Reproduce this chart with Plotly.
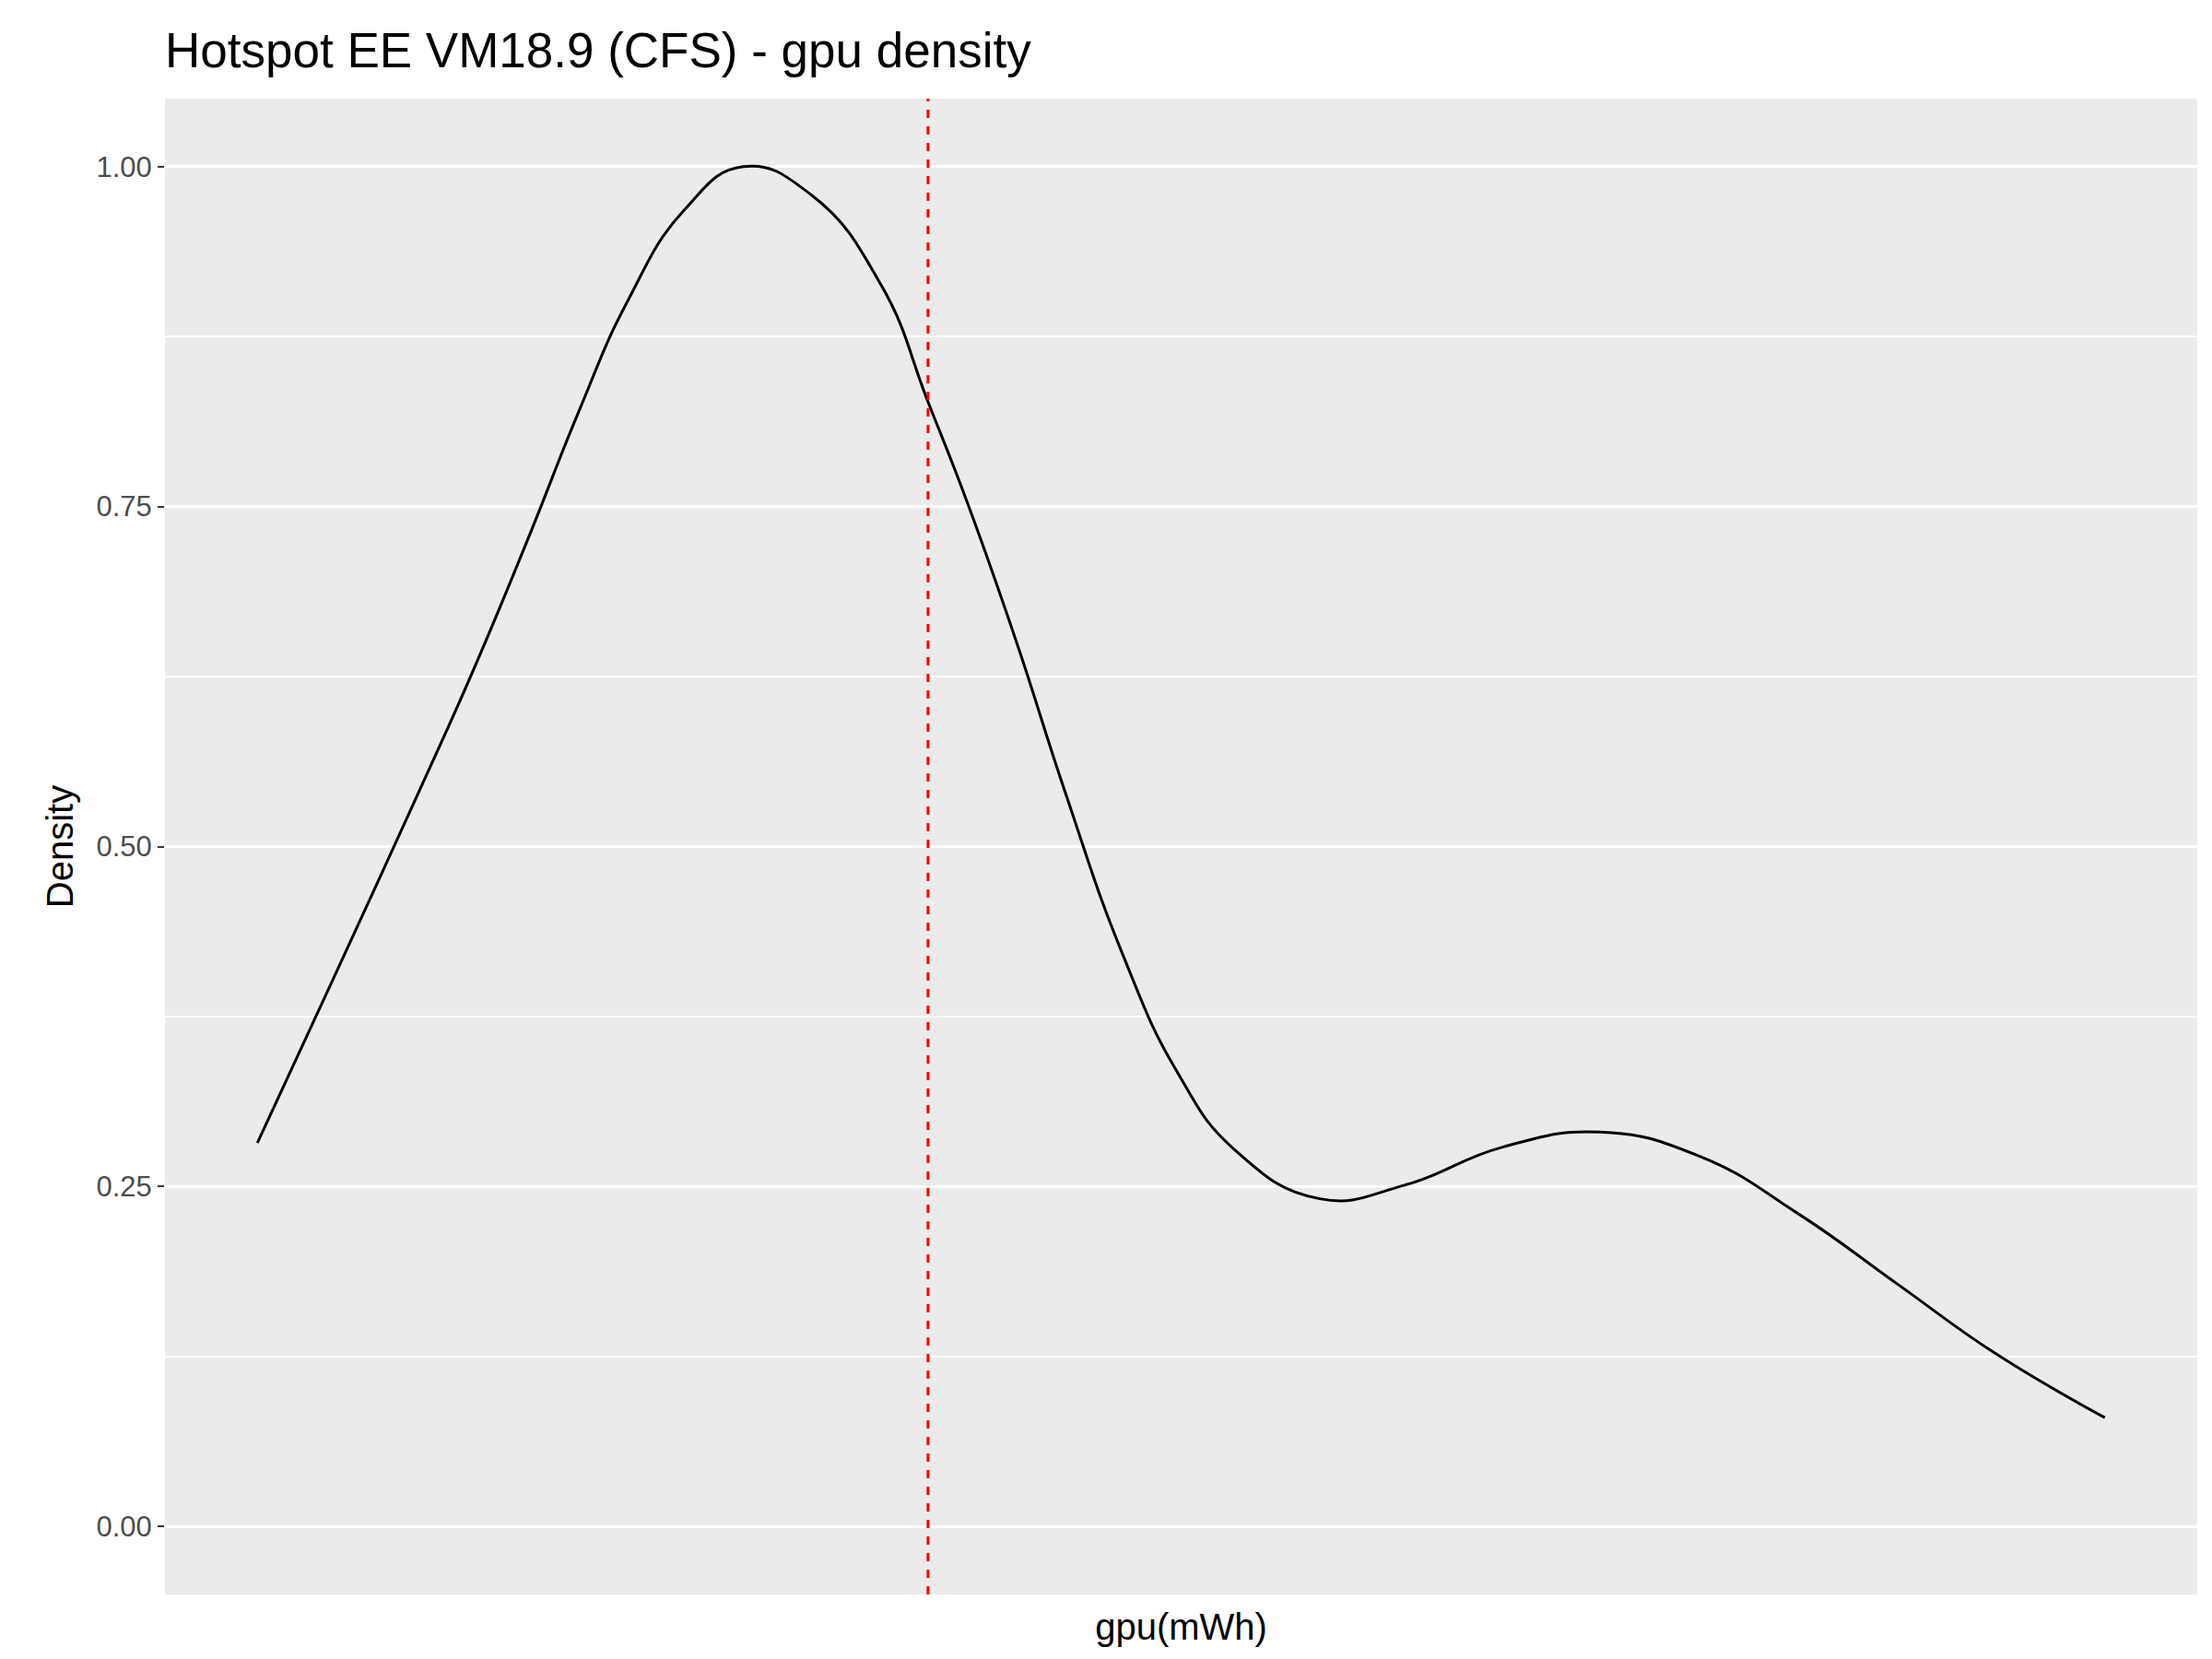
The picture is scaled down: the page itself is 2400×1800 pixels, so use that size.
import plotly.graph_objects as go

gpu_x = [0, 0.0405, 0.086, 0.117, 0.147, 0.174, 0.200, 0.231, 0.263, 0.300, 0.338, 0.363,
         0.384, 0.411, 0.437, 0.468, 0.498, 0.529, 0.575, 0.621, 0.674, 0.727, 0.781,
         0.834, 0.888, 0.941, 1.0]
density = [0.282, 0.401, 0.536, 0.630, 0.728, 0.820, 0.900, 0.968, 1.0, 0.979, 0.912, 0.827,
           0.754, 0.650, 0.541, 0.422, 0.334, 0.277, 0.241, 0.251, 0.279, 0.290, 0.272,
           0.230, 0.178, 0.127, 0.080]
mean_x = 0.363
y_ticks = [0, 0.25, 0.5, 0.75, 1.0]
y_labels = ["0.00", "0.25", "0.50", "0.75", "1.00"]

fig = go.Figure()
fig.add_trace(go.Scatter(x=gpu_x, y=density, mode="lines",
                         line=dict(color="black", width=3, shape="spline", smoothing=1.3), showlegend=False))
fig.add_trace(go.Scatter(x=[mean_x, mean_x], y=[-0.05, 1.05], mode="lines",
                         line=dict(color="#FF0000", width=3, dash="dash"), showlegend=False))

font = "Liberation Sans, Arial, sans-serif"
fig.update_layout(
    width=2400, height=1800, paper_bgcolor="white", plot_bgcolor="#EBEBEB",
    margin=dict(l=171, r=24, t=99, b=78),
    title=dict(text="Hotspot EE VM18.9 (CFS) - gpu density", x=171/2400, xanchor="left", y=1-46/1800, yanchor="middle",
               font=dict(family=font, size=53, color="black")),
    xaxis=dict(range=[-0.05, 1.05], showticklabels=False, showgrid=False, zeroline=False, ticks="",
               title=dict(text="gpu(mWh)", font=dict(family=font, size=40, color="black"), standoff=20)),
    yaxis=dict(range=[-0.05, 1.05], tickvals=y_ticks, ticktext=y_labels, gridcolor="white", gridwidth=3,
               minor=dict(tickvals=[0.125, 0.375, 0.625, 0.875], showgrid=True, gridcolor="white", gridwidth=1.5),
               zeroline=False, ticks="outside", ticklen=7, tickwidth=2, tickcolor="#333333", automargin=False,
               tickfont=dict(family=font, size=31, color="#4D4D4D"),
               title=dict(text="Density", font=dict(family=font, size=40, color="black"), standoff=12)),
)
fig.write_html("out.html")
